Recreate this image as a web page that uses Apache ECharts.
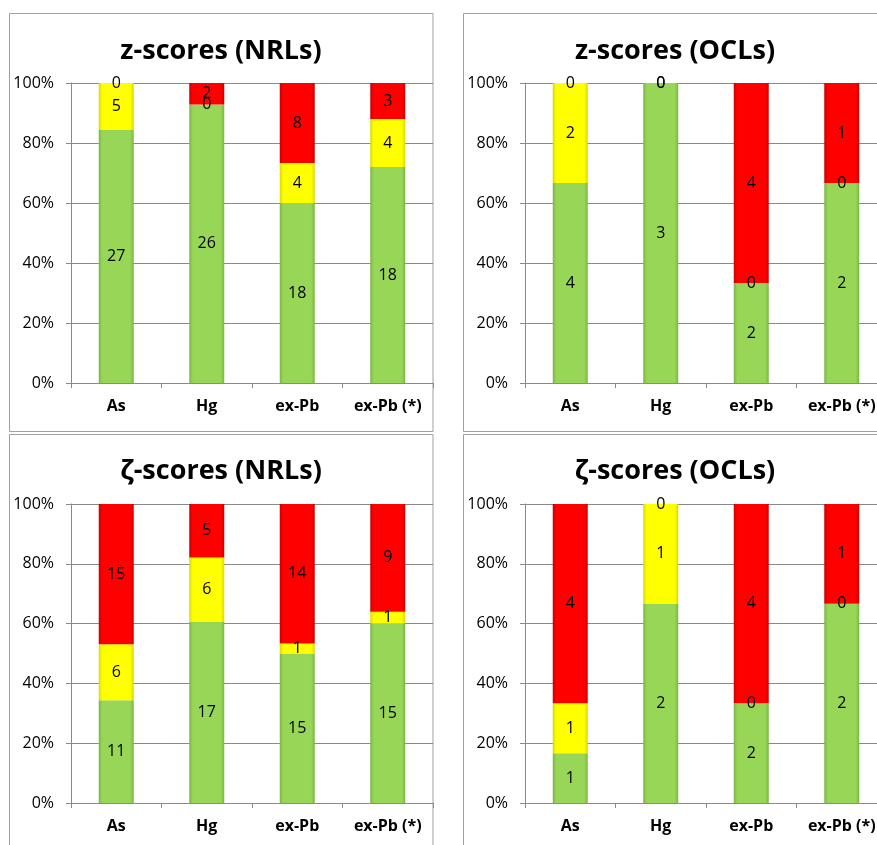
<!DOCTYPE html>
<html>
<head>
<meta charset="utf-8">
<script src="https://cdn.jsdelivr.net/npm/echarts@6/dist/echarts.min.js"></script>
<style>
  html, body { margin: 0; padding: 0; background: #fff; overflow: hidden; }
  #chart { width: 877px; height: 845px; }
</style>
</head>
<body>
<div id="chart"></div>
<script>
// Categories shared by all four panels
const categories = ['As', 'Hg', 'ex-Pb', 'ex-Pb (*)'];

// Panel titles
const panelTitles = ['z-scores (NRLs)', 'z-scores (OCLs)', 'ζ-scores (NRLs)', 'ζ-scores (OCLs)'];

// Counts per category: satisfactory (green), questionable (yellow), unsatisfactory (red)
const zNrlGreen  = [27, 26, 18, 18];
const zNrlYellow = [5, 0, 4, 4];
const zNrlRed    = [0, 2, 8, 3];

const zOclGreen  = [4, 3, 2, 2];
const zOclYellow = [2, 0, 0, 0];
const zOclRed    = [0, 0, 4, 1];

const zetaNrlGreen  = [11, 17, 15, 15];
const zetaNrlYellow = [6, 6, 1, 1];
const zetaNrlRed    = [15, 5, 14, 9];

const zetaOclGreen  = [1, 2, 2, 2];
const zetaOclYellow = [1, 1, 0, 0];
const zetaOclRed    = [4, 0, 4, 1];

const panels = [
  [zNrlGreen, zNrlYellow, zNrlRed],
  [zOclGreen, zOclYellow, zOclRed],
  [zetaNrlGreen, zetaNrlYellow, zetaNrlRed],
  [zetaOclGreen, zetaOclYellow, zetaOclRed]
];

// Layout of the four panels (the right-hand column runs past the page edge)
const gridBoxes = [
  { left: 71,  top: 83,  width: 362, height: 300 },
  { left: 525, top: 83,  width: 362, height: 300 },
  { left: 71,  top: 504, width: 362, height: 299 },
  { left: 525, top: 504, width: 362, height: 299 }
];
const frames = [
  { x: 9.5,   y: 13.5,  w: 423.5, h: 418 },
  { x: 463.5, y: 13.5,  w: 423.5, h: 418 },
  { x: 9.5,   y: 434.5, w: 423.5, h: 430 },
  { x: 463.5, y: 434.5, w: 423.5, h: 430 }
];
const TITLE_SIZE = 27;
const TITLE_LH = 32;
const titleCentres = [
  { x: 221, y: 51 }, { x: 675, y: 51 }, { x: 221, y: 471 }, { x: 675, y: 471 }
];

// Bevelled fill for each status colour
function bevel(edge, base) {
  return {
    type: 'linear', x: 0, y: 0, x2: 1, y2: 0,
    colorStops: [
      { offset: 0, color: edge },
      { offset: 0.1, color: base },
      { offset: 0.9, color: base },
      { offset: 1, color: edge }
    ]
  };
}
const fills = [
  bevel('#7DB545', '#97D656'),
  bevel('#D9D900', '#FFFF00'),
  bevel('#CC0000', '#FF0000')
];

const FONT = '"Open Sans", Lato, sans-serif';
const AXIS_GRAY = '#8A8A8A';

const grid = [], xAxis = [], yAxis = [], series = [], title = [], graphic = [];

panels.forEach((counts, p) => {
  grid.push(Object.assign({ containLabel: false, outerBoundsMode: 'none' }, gridBoxes[p]));
  title.push({
    text: panelTitles[p],
    left: titleCentres[p].x, top: titleCentres[p].y - TITLE_LH / 2, textAlign: 'center',
    padding: 0,
    textStyle: { fontFamily: FONT, fontWeight: 'bold', fontSize: TITLE_SIZE, color: '#000', lineHeight: TITLE_LH }
  });
  graphic.push({
    type: 'rect', silent: true, z: -1,
    shape: { x: frames[p].x, y: frames[p].y, width: frames[p].w, height: frames[p].h },
    style: { fill: 'none', stroke: '#A0A0A0', lineWidth: 1 }
  });
  xAxis.push({
    type: 'category', gridIndex: p, data: categories,
    axisLine: { show: true, lineStyle: { color: AXIS_GRAY, width: 1 } },
    axisTick: { show: true, length: 5, interval: 0, lineStyle: { color: AXIS_GRAY } },
    axisLabel: {
      interval: 0, hideOverlap: false,
      fontFamily: FONT, fontWeight: 'bold', fontSize: 16, color: '#000', margin: 15
    }
  });
  yAxis.push({
    type: 'value', gridIndex: p, min: 0, max: 100, interval: 20,
    axisLine: { show: true, lineStyle: { color: AXIS_GRAY, width: 1 } },
    axisTick: { show: true, length: 5, lineStyle: { color: AXIS_GRAY } },
    splitLine: { show: true, lineStyle: { color: AXIS_GRAY, width: 1 } },
    axisLabel: { fontFamily: FONT, fontSize: 16, color: '#000', margin: 17, formatter: '{value}%' }
  });

  const totals = categories.map((_, i) => counts[0][i] + counts[1][i] + counts[2][i]);
  counts.forEach((arr, s) => {
    series.push({
      type: 'bar', xAxisIndex: p, yAxisIndex: p, stack: 'panel' + p,
      barWidth: 35,
      data: arr.map((v, i) => ({ value: v / totals[i] * 100, count: v })),
      itemStyle: { color: fills[s], borderWidth: 0 },
      label: {
        show: true, position: 'inside', fontFamily: FONT, fontSize: 16, color: '#000',
        formatter: (d) => String(d.data.count)
      },
      emphasis: { disabled: true },
      animation: false
    });
  });
});

const chart = echarts.init(document.getElementById('chart'), null, { renderer: 'canvas' });
chart.setOption({
  backgroundColor: '#fff',
  animation: false,
  title, grid, xAxis, yAxis, series, graphic
});
</script>
</body>
</html>
